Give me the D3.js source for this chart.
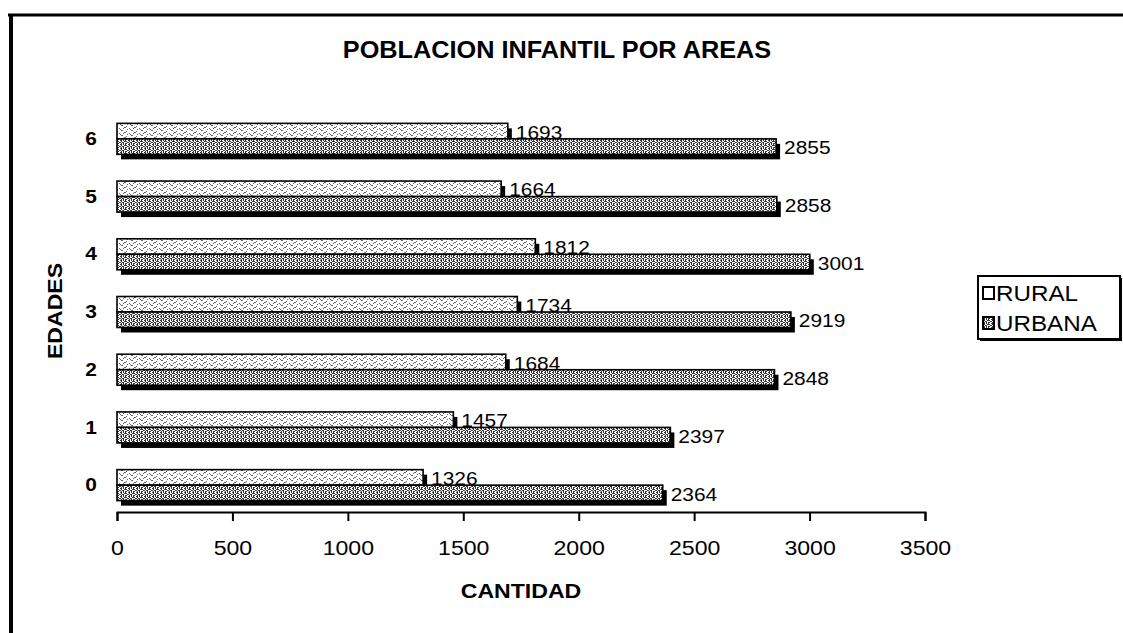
<!DOCTYPE html>
<html>
<head>
<meta charset="utf-8">
<script src="https://cdn.jsdelivr.net/npm/d3@7"></script>
<style>
  body { margin: 0; background: #fff; }
  svg text { font-family: "Liberation Sans", Arial, sans-serif; fill: #000; }
</style>
</head>
<body>
<div id="chart"></div>
<script>
// data
var edades = ["0", "1", "2", "3", "4", "5", "6"]
var rural = [1326, 1457, 1684, 1734, 1812, 1664, 1693]
var urbana = [2364, 2397, 2848, 2919, 3001, 2858, 2855]
var xTicks = [0, 500, 1000, 1500, 2000, 2500, 3000, 3500]
var seriesNames = ["RURAL", "URBANA"]

;(function() {
	var w = 1123, h = 633,
		margins = {top: 110, bottom: 514, left: 117, right: 925},
		sx = 1.1,          // scanned text looks a bit stretched sideways
		barH = 15.5,
		shadow = 5,
		svg = d3.select("#chart").append("svg")
			.attr("width", w)
			.attr("height", h)

	// speckle textures like the old printed chart
	var defs = svg.append("defs")
	var makePattern = (id, rows, dark) => {
		var p = defs.append("pattern")
			.attr("id", id)
			.attr("patternUnits", "userSpaceOnUse")
			.attr("width", rows[0].length)
			.attr("height", rows.length)
		p.append("rect").attr("width", rows[0].length).attr("height", rows.length).attr("fill", "#fff")
		rows.forEach((r, j) => {
			r.split("").forEach((c, i) => {
				if (c === "x") p.append("rect").attr("x", i).attr("y", j).attr("width", 1).attr("height", 1).attr("fill", dark)
			})
		})
	}
	makePattern("patRural", [
		".xx.......",
		"......x...",
		"....xx....",
		"...x.....x",
		"x......x.."
	], "#666")
	makePattern("patUrbana", [
		"xx.x.x..",
		".x..xxx.",
		"x.xx...x",
		".x.x.xx."
	], "#333")
	var fills = ["url(#patRural)", "url(#patUrbana)"]

	var x = d3.scaleLinear()
		.domain([0, 3500])
		.range([margins.left, margins.right])

	var y = d3.scaleBand()
		.domain(edades.slice().reverse())
		.range([margins.top, margins.bottom])

	var offset = (y.bandwidth() - 2 * barH) / 2

	var rows = edades.map((e, i) => ({edad: e, vals: [rural[i], urbana[i]]}))
	var bars = []
	rows.forEach(r => r.vals.forEach((v, s) => bars.push({edad: r.edad, s: s, v: v})))

	var barY = d => y(d.edad) + offset + d.s * barH

	// frame of the chart area
	svg.append("line").attr("x1", 8).attr("x2", w).attr("y1", 15).attr("y2", 15)
		.attr("stroke", "#000").attr("stroke-width", 3)
	svg.append("line").attr("x1", 11).attr("x2", 11).attr("y1", 14).attr("y2", h)
		.attr("stroke", "#000").attr("stroke-width", 4)

	// title
	svg.append("text")
		.attr("transform", "translate(557,58) scale(" + sx + ",1)")
		.attr("text-anchor", "middle")
		.style("font-size", "23px")
		.style("font-weight", "bold")
		.text("POBLACION INFANTIL POR AREAS")

	// shadows first, then bars on top
	svg.append("g").selectAll("rect")
		.data(bars)
		.enter()
		.append("rect")
		.attr("x", x(0) + shadow - 1)
		.attr("y", d => barY(d) + shadow)
		.attr("width", d => x(d.v) - x(0))
		.attr("height", barH)
		.attr("fill", "#000")

	svg.append("g").selectAll("rect")
		.data(bars)
		.enter()
		.append("rect")
		.attr("x", x(0))
		.attr("y", barY)
		.attr("width", d => x(d.v) - x(0))
		.attr("height", barH)
		.attr("fill", d => fills[d.s])
		.attr("stroke", "#000")
		.attr("stroke-width", 1.6)

	// value labels
	svg.append("g").selectAll("text")
		.data(bars)
		.enter()
		.append("text")
		.attr("transform", d => "translate(" + (x(d.v) + shadow + 3) + "," + (barY(d) + barH / 2 + 1) + ") scale(" + sx + ",1)")
		.attr("dy", "0.35em")
		.style("font-size", "19px")
		.text(d => d.v)

	// x axis
	var xAxis = d3.axisBottom(x)
		.tickValues(xTicks)
		.tickFormat(d3.format("d"))
		.tickSize(9)
		.tickPadding(19)

	var gx = svg.append("g")
		.attr("transform", "translate(0," + 512 + ")")
		.call(xAxis)
	gx.select(".domain").attr("stroke-width", 2)
	gx.selectAll(".tick line").attr("stroke-width", 2)
	gx.selectAll(".tick text")
		.attr("transform", "scale(" + sx + ",1)")
		.style("font-size", "21px")
		.style("font-family", "'Liberation Sans', Arial, sans-serif")

	// y axis: labels only
	var yAxis = d3.axisLeft(y).tickSize(0).tickPadding(0)
	var gy = svg.append("g")
		.attr("transform", "translate(" + margins.left + "," + (offset + barH - y.bandwidth() / 2) + ")")
		.call(yAxis)
	gy.select(".domain").remove()
	gy.selectAll(".tick text")
		.attr("x", null)
		.attr("transform", "translate(-20,0) scale(" + sx + ",1)")
		.style("font-size", "19px")
		.style("font-weight", "bold")
		.style("font-family", "'Liberation Sans', Arial, sans-serif")

	// axis titles
	svg.append("text")
		.attr("transform", "translate(521,598) scale(" + sx + ",1)")
		.attr("text-anchor", "middle")
		.style("font-size", "21px")
		.style("font-weight", "bold")
		.text("CANTIDAD")

	svg.append("text")
		.attr("transform", "translate(62,311) rotate(-90) scale(" + sx + ",1)")
		.attr("text-anchor", "middle")
		.style("font-size", "21px")
		.style("font-weight", "bold")
		.text("EDADES")

	// legend
	var leg = svg.append("g").attr("transform", "translate(978,276)")
	leg.append("rect").attr("x", 2).attr("y", 2).attr("width", 142).attr("height", 63).attr("fill", "#000")
	leg.append("rect").attr("width", 142).attr("height", 63)
		.attr("fill", "#fff").attr("stroke", "#000").attr("stroke-width", 2)
	var items = leg.selectAll("g.item")
		.data(seriesNames)
		.enter()
		.append("g")
		.attr("class", "item")
		.attr("transform", (d, i) => "translate(5," + (17 + i * 30) + ")")
	items.append("rect")
		.attr("x", 0).attr("y", -6)
		.attr("width", 11).attr("height", 12)
		.attr("fill", (d, i) => i === 0 ? "#fff" : fills[1])
		.attr("stroke", "#000").attr("stroke-width", 2)
	items.append("text")
		.attr("transform", "translate(13,0) scale(" + sx + ",1)")
		.attr("dy", "0.36em")
		.style("font-size", "22px")
		.text(d => d)
})()
</script>
</body>
</html>
